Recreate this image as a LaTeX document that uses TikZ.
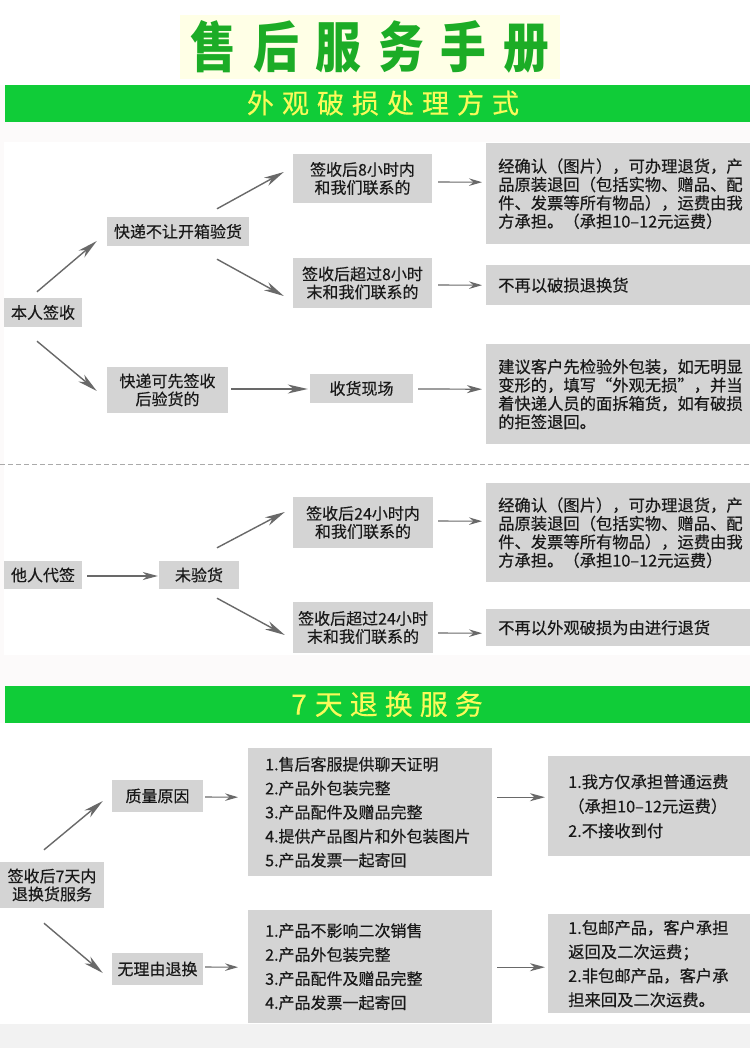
\documentclass[tikz,border=0pt]{standalone}
\usepackage{fontspec}
\newfontfamily\cjk{Noto Sans CJK SC}[FakeBold=0.35]
\newfontfamily\cjkt{Noto Sans CJK SC}
\usetikzlibrary{arrows.meta,calc}
\definecolor{boxgray}{RGB}{212,212,212}
\definecolor{txt}{RGB}{25,25,25}
\definecolor{arrgray}{RGB}{105,105,105}
\definecolor{barg}{RGB}{16,204,56}
\definecolor{ttlg}{RGB}{28,172,38}
\definecolor{ylw}{RGB}{250,250,90}
\definecolor{ttlbg}{RGB}{255,255,230}
\definecolor{offw}{RGB}{252,250,250}
\definecolor{btm}{RGB}{242,242,242}
\definecolor{dashc}{RGB}{170,170,170}
\begin{document}
\begin{tikzpicture}[x=1pt,y=-1pt,
  box/.style={fill=boxgray, inner sep=0pt, text=txt, align=center,
    font=\cjk\fontsize{16}{18}\selectfont},
  rbox/.style={box, anchor=north west, align=left, inner xsep=12pt, inner ysep=0pt,
    text width=240pt, font=\cjk\fontsize{16.3}{18.4}\selectfont},
  lbox/.style={box, anchor=north west, align=left, font=\cjk\fontsize{16}{24}\selectfont},
  arrL/.style={draw=arrgray, line width=1.4pt, -{Stealth[length=20pt,width=9pt,inset=6pt]}},
  arrM/.style={draw=arrgray, line width=1.2pt, -{Stealth[length=15pt,width=8pt,inset=4.5pt]}},
  arrS/.style={draw=arrgray, line width=1.1pt, -{Stealth[length=13pt,width=7.5pt,inset=4.5pt]}},
  bartext/.style={text=ylw, inner sep=0pt}]
\useasboundingbox (0,0) rectangle (750,1048);
% backgrounds
\fill[offw] (0,0) rectangle (750,1048);
\fill[white] (0,0) rectangle (750,85);
\fill[white] (4,142) rectangle (750,655);
\fill[white] (0,723) rectangle (750,1024);
\fill[btm] (0,1024) rectangle (750,1048);
\fill[barg] (5,85) rectangle (750,122);
\fill[barg] (5,686) rectangle (750,723);
\draw[dashc, line width=1pt, dash pattern=on 5pt off 3pt] (0,464) -- (750,464);

% titles
\node[fill=ttlbg, minimum width=380pt, minimum height=64pt, inner sep=0pt, text=ttlg] (title) at (370,47)
  {\scalebox{0.88}[1.05]{\cjkt\bfseries\fontsize{52}{52}\selectfont 售\hspace{19pt}后\hspace{19pt}服\hspace{19pt}务\hspace{19pt}手\hspace{19pt}册}};
\node[bartext, font=\cjk\fontsize{27}{27}\selectfont] (h1) at (383,103)
  {外\hspace{8pt}观\hspace{8pt}破\hspace{8pt}损\hspace{8pt}处\hspace{8pt}理\hspace{8pt}方\hspace{8pt}式};
\node[bartext, font=\cjk\fontsize{28}{28}\selectfont] (h2) at (387,704)
  {7\hspace{8pt}天\hspace{7pt}退\hspace{7pt}换\hspace{7pt}服\hspace{7pt}务};

% section 1
\node[box, minimum width=78pt, minimum height=29pt] (n1) at (43,312.5) {本人签收};
\node[box, minimum width=142pt, minimum height=29pt] (n2) at (178,231.5) {快递不让开箱验货};
\node[box, minimum width=121pt, minimum height=46pt] (n3) at (167.5,390) {快递可先签收\\后验货的};
\node[box, minimum width=139pt, minimum height=49pt] (n4) at (362.5,178.5) {签收后8小时内\\和我们联系的};
\node[box, minimum width=139pt, minimum height=50pt] (n5) at (362.5,283) {签收后超过8小时\\末和我们联系的};
\node[box, minimum width=103pt, minimum height=29pt] (n6) at (361.5,388.5) {收货现场};
\node[rbox, minimum height=101pt] (r1) at (486,143)
  {经确认（图片），可办理退货，产\\品原装退回（包括实物、赠品、配\\件、发票等所有物品），运费由我\\方承担。（承担10–12元运费）};
\node[rbox, minimum height=40pt] (r2) at (486,265) {不再以破损退换货};
\node[rbox, minimum height=100pt] (r3) at (486,344)
  {建议客户先检验外包装，如无明显\\变形的，填写“外观无损”，并当\\着快递人员的面拆箱货，如有破损\\的拒签退回。};

\draw[arrL] ($(n1.north)+(-6,-6)$) -- ($(n2.west)+(-10,9.5)$);
\draw[arrL] ($(n1.south)+(-6,14)$) -- ($(n3.west)+(-10,1)$);
\draw[arrL] ($(n2.north)+(39,-8)$) -- ($(n4.west)+(-9,-6.5)$);
\draw[arrL] ($(n2.south)+(39,13)$) -- ($(n5.west)+(-9,13)$);
\draw[arrL] ($(n3.east)+(3,-1)$) -- ($(n6.west)+(-2,0.5)$);
\draw[arrS] ($(n4.east)+(6,3.5)$) -- ($(r1.west)+(-4,-11.5)$);
\draw[arrS] ($(n5.east)+(6,2)$) -- ($(r2.west)+(-4,0)$);
\draw[arrM] ($(n6.east)+(5,0.5)$) -- ($(r3.west)+(-4,-5)$);

% section 1b
\node[box, minimum width=78pt, minimum height=28pt] (n7) at (43,575) {他人代签};
\node[box, minimum width=80pt, minimum height=28pt] (n8) at (199,575) {未验货};
\node[box, minimum width=140pt, minimum height=51pt] (n9) at (363,522.5) {签收后24小时内\\和我们联系的};
\node[box, minimum width=140pt, minimum height=51pt] (n10) at (363,627.5) {签收后超过24小时\\末和我们联系的};
\node[rbox, minimum height=99pt] (r4) at (486,483)
  {经确认（图片），可办理退货，产\\品原装退回（包括实物、赠品、配\\件、发票等所有物品），运费由我\\方承担。（承担10–12元运费）};
\node[rbox, minimum height=37pt] (r5) at (486,609) {不再以外观破损为由进行退货};

\draw[arrM] ($(n7.east)+(5,1)$) -- ($(n8.west)+(-1,1)$);
\draw[arrL] ($(n8.north)+(18,-13)$) -- ($(n9.west)+(-8,-10.5)$);
\draw[arrL] ($(n8.south)+(18,9)$) -- ($(n10.west)+(-8,7.5)$);
\draw[arrS] ($(n9.east)+(5,-1.5)$) -- ($(r4.west)+(-4,-11.5)$);
\draw[arrS] ($(n10.east)+(5,5.5)$) -- ($(r5.west)+(-4,5.5)$);

% section 2
\node[box, minimum width=104pt, minimum height=46pt] (s1) at (52,885) {签收后7天内\\退换货服务};
\node[box, minimum width=91pt, minimum height=32pt] (s2) at (157.5,796) {质量原因};
\node[box, minimum width=91pt, minimum height=32pt] (s3) at (157.5,969) {无理由退换};
\node[lbox, text width=210pt, inner xsep=17pt, minimum height=128pt] (b1) at (248,748)
  {1.售后客服提供聊天证明\\2.产品外包装完整\\3.产品配件及赠品完整\\4.提供产品图片和外包装图片\\5.产品发票一起寄回};
\node[lbox, text width=210pt, inner xsep=17pt, minimum height=113pt] (b2) at (248,910)
  {1.产品不影响二次销售\\2.产品外包装完整\\3.产品配件及赠品完整\\4.产品发票一起寄回};
\node[lbox, text width=162pt, inner xsep=20pt, minimum height=100pt, font=\cjk\fontsize{16.3}{24.5}\selectfont] (c1) at (548,756)
  {1.我方仅承担普通运费\\（承担10–12元运费）\\2.不接收到付};
\node[lbox, text width=162pt, inner xsep=20pt, minimum height=99pt, font=\cjk\fontsize{16.3}{24}\selectfont] (c2) at (548,914)
  {1.包邮产品，客户承担\\返回及二次运费；\\2.非包邮产品，客户承\\担来回及二次运费。};

\draw[arrL] ($(s1.north)+(-8,-12)$) -- ($(s2.west)+(-9,5)$);
\draw[arrL] ($(s1.south)+(-8,15)$) -- ($(s3.west)+(-9,4)$);
\draw[arrS] ($(s2.east)+(2,1)$) -- ($(b1.west)+(-10,-15)$);
\draw[arrS] ($(s3.east)+(2,-2)$) -- ($(b2.west)+(-10,0.5)$);
\draw[arrM] ($(b1.east)+(5,-15)$) -- ($(c1.west)+(-3,-9)$);
\draw[arrM] ($(b2.east)+(5,0.5)$) -- ($(c2.west)+(-3,3.5)$);
\end{tikzpicture}
\end{document}
